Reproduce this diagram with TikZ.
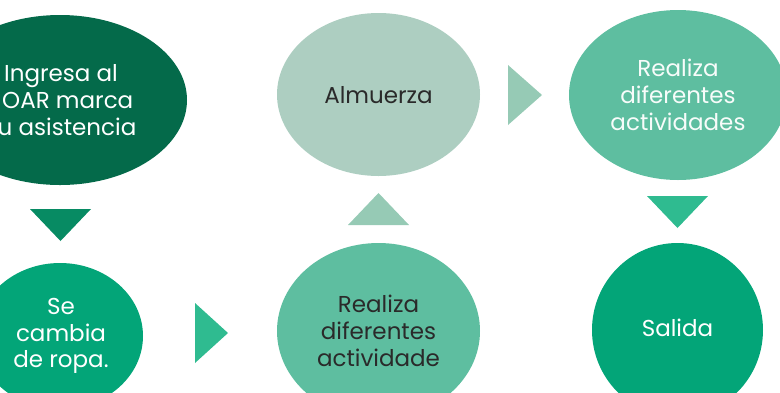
\documentclass[tikz,border=0pt]{standalone}
\usepackage{fontspec}
\setmainfont{Poppins}
\usetikzlibrary{shapes.geometric}
\definecolor{cdark}{HTML}{046A4A}
\definecolor{cmid}{HTML}{03A578}
\definecolor{cpale}{HTML}{ADCEC1}
\definecolor{cteal}{HTML}{5EBEA0}
\definecolor{tdark}{HTML}{078B63}
\definecolor{tmid}{HTML}{2FBB90}
\definecolor{tpale}{HTML}{96CAB5}
\definecolor{txtdark}{HTML}{2A2A2A}
\tikzset{
  blob/.style={ellipse, inner sep=0pt, align=center, font=\fontsize{23}{26.7}\selectfont}
}
\begin{document}
\begin{tikzpicture}[x=1pt,y=-1pt]
\useasboundingbox (0,0) rectangle (780,392);
\clip (0,0) rectangle (780,392);
% ellipses
\fill[cdark] (60,100) ellipse [x radius=127, y radius=85];
\node[blob, text=white] (n1) at (61,100) {Ingresa al\\\phantom{S}OAR marca\\\phantom{s}u asistencia};
\fill[cmid] (60,336) ellipse [x radius=83, y radius=73];
\node[blob, text=white] (n2) at (61,336) {Se\\cambia\\de ropa.};
\fill[cteal] (378.5,331) ellipse [x radius=101.5, y radius=88];
\node[blob, text=txtdark] (n3) at (378.5,331) {Realiza\\diferentes\\actividade};
\fill[cpale] (378.5,94.5) ellipse [x radius=101.5, y radius=81.5];
\node[blob, text=txtdark] (n4) at (378.5,95) {Almuerza};
\fill[cteal] (678,95) ellipse [x radius=109, y radius=85];
\node[blob, text=white!95!cteal] (n5) at (678,95) {Realiza\\diferentes\\actividades};
\fill[cmid] (677.5,330) ellipse [x radius=85.5, y radius=87];
\node[blob, text=white] (n6) at (677.5,328) {Salida};
% triangle arrows
\fill[tdark] (30,209) -- (91,209) -- (60.5,241) -- cycle;
\fill[tmid] (195,303) -- (228,333) -- (195,363) -- cycle;
\fill[tpale] (348,225) -- (409,225) -- (378.5,193) -- cycle;
\fill[tpale] (508,65) -- (542,95) -- (508,125) -- cycle;
\fill[tmid] (647,196) -- (708,196) -- (677.5,228) -- cycle;
\end{tikzpicture}
\end{document}
